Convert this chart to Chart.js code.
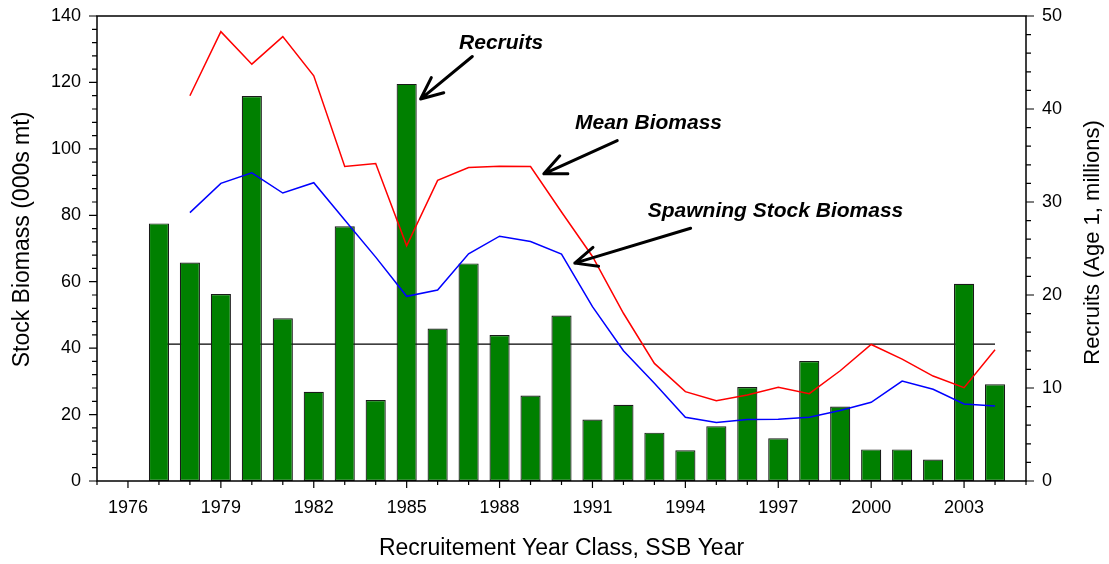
<!DOCTYPE html>
<html>
<head>
<meta charset="utf-8">
<script src="https://cdn.jsdelivr.net/npm/chart.js@4.4.1/dist/chart.umd.min.js"></script>
<style>
  html, body { margin: 0; padding: 0; background: #fff; }
</style>
</head>
<body>
<canvas id="chart" width="1109" height="564"></canvas>
<script>
// recruits by year class (millions, right axis)
const recruitYears = [1977, 1978, 1979, 1980, 1981, 1982, 1983, 1984, 1985, 1986, 1987, 1988, 1989, 1990,
  1991, 1992, 1993, 1994, 1995, 1996, 1997, 1998, 1999, 2000, 2001, 2002, 2003, 2004];
const recruits = [27.7, 23.5, 20.1, 41.4, 17.5, 9.6, 27.4, 8.7, 42.7, 16.4, 23.4, 15.7, 9.2, 17.8,
  6.6, 8.2, 5.2, 3.3, 5.9, 10.1, 4.6, 12.9, 8.0, 3.4, 3.4, 2.3, 21.2, 10.4];

// biomass by SSB year (000s mt, left axis)
const biomassYears = [1978, 1979, 1980, 1981, 1982, 1983, 1984, 1985, 1986, 1987, 1988, 1989, 1990,
  1991, 1992, 1993, 1994, 1995, 1996, 1997, 1998, 1999, 2000, 2001, 2002, 2003, 2004];
const meanBiomass = [116.0, 135.3, 125.5, 133.8, 122.0, 94.7, 95.6, 70.8, 90.5, 94.4, 94.8, 94.7, 81.0,
  67.6, 50.5, 35.4, 26.9, 24.2, 25.9, 28.2, 26.3, 33.2, 41.1, 36.7, 31.6, 28.1, 39.5];
const ssb = [80.8, 89.6, 92.8, 86.7, 89.8, 78.6, 67.4, 55.6, 57.5, 68.4, 73.7, 72.1, 68.3,
  52.5, 39.2, 29.4, 19.2, 17.6, 18.5, 18.6, 19.2, 21.2, 23.7, 30.1, 27.6, 23.2, 22.6];

// flat reference line
const refYears = [1977, 2004];
const refLevel = 41.2;

// which ticks get labels
const yearLabels = [1976, 1979, 1982, 1985, 1988, 1991, 1994, 1997, 2000, 2003];
const leftLabels = [0, 20, 40, 60, 80, 100, 120, 140];
const rightLabels = [0, 10, 20, 30, 40, 50];

// callouts: text spot and arrow (year, biomass)
const notes = [
  { text: "Recruits", at: [1988.05, 132.2], from: [1987.12, 127.8], to: [1985.45, 115.0] },
  { text: "Mean Biomass", at: [1992.81, 108.0], from: [1991.8, 102.5], to: [1989.43, 92.5] },
  { text: "Spawning Stock Biomass", at: [1996.91, 81.6], from: [1994.17, 76.1], to: [1990.43, 65.6] },
];

const FONT = 'Arial, "Liberation Sans", sans-serif';

function pts(xs, ys) {
  return xs.map((x, i) => ({ x: x, y: ys[i] }));
}

// fixed axis box sizes so the plot area sits where the original one does
function fixSize(w, h) {
  return (s) => {
    if (w) s.width = w;
    if (h) s.height = h;
    s.paddingTop = 0;
    s.paddingBottom = 0;
    s.paddingLeft = 0;
    s.paddingRight = 0;
  };
}

function vText(ctx, text, x, y) {
  ctx.save();
  ctx.translate(x, y);
  ctx.rotate(-Math.PI / 2);
  ctx.fillText(text, 0, 0);
  ctx.restore();
}

// frame + tick marks (long for labelled ticks, short otherwise) + side titles
const frameTicks = {
  id: "frameTicks",
  afterDraw(chart) {
    const { ctx, chartArea: a, scales } = chart;
    ctx.save();
    ctx.strokeStyle = "#000";
    ctx.lineWidth = 1.5;
    ctx.strokeRect(a.left, a.top, a.right - a.left, a.bottom - a.top);
    ctx.lineWidth = 1.2;
    ctx.beginPath();
    scales.x.ticks.forEach((t) => {
      const px = scales.x.getPixelForValue(t.value);
      const len = yearLabels.includes(t.value) ? 7 : 4;
      ctx.moveTo(px, a.bottom);
      ctx.lineTo(px, a.bottom + len);
    });
    scales.y.ticks.forEach((t) => {
      const py = scales.y.getPixelForValue(t.value);
      const len = leftLabels.includes(t.value) ? 8 : 5;
      ctx.moveTo(a.left, py);
      ctx.lineTo(a.left - len, py);
    });
    scales.y1.ticks.forEach((t) => {
      const py = scales.y1.getPixelForValue(t.value);
      const len = rightLabels.includes(t.value) ? 8 : 5;
      ctx.moveTo(a.right, py);
      ctx.lineTo(a.right + len, py);
    });
    ctx.stroke();

    ctx.fillStyle = "#000";
    ctx.textAlign = "center";
    ctx.textBaseline = "middle";
    const mid = (a.top + a.bottom) / 2;
    ctx.font = "23px " + FONT;
    vText(ctx, "Stock Biomass (000s mt)", a.left - 74, mid - 9);
    ctx.font = "22px " + FONT;
    vText(ctx, "Recruits (Age 1, millions)", a.right + 67, mid - 6);
    ctx.restore();
  },
};

const callouts = {
  id: "callouts",
  afterDatasetsDraw(chart) {
    const { ctx, scales } = chart;
    const X = (v) => scales.x.getPixelForValue(v);
    const Y = (v) => scales.y.getPixelForValue(v);
    ctx.save();
    ctx.fillStyle = "#000";
    ctx.strokeStyle = "#000";
    ctx.font = "italic bold 21px " + FONT;
    ctx.textAlign = "center";
    ctx.textBaseline = "middle";
    notes.forEach((n) => {
      ctx.fillText(n.text, X(n.at[0]), Y(n.at[1]) + 1);
      const x0 = X(n.from[0]), y0 = Y(n.from[1]);
      const x1 = X(n.to[0]), y1 = Y(n.to[1]);
      const ang = Math.atan2(y1 - y0, x1 - x0);
      ctx.lineWidth = 3;
      ctx.lineCap = "round";
      ctx.beginPath();
      ctx.moveTo(x0, y0);
      ctx.lineTo(x1, y1);
      [0.42, -0.42].forEach((d) => {
        ctx.moveTo(x1, y1);
        ctx.lineTo(x1 - 24 * Math.cos(ang + d), y1 - 24 * Math.sin(ang + d));
      });
      ctx.stroke();
    });
    ctx.restore();
  },
};

new Chart(document.getElementById("chart").getContext("2d"), {
  type: "bar",
  data: {
    datasets: [
      {
        type: "line",
        label: "Mean Biomass",
        data: pts(biomassYears, meanBiomass),
        borderColor: "#ff0000",
        borderWidth: 1.5,
        pointRadius: 0,
        tension: 0,
        yAxisID: "y",
        order: 0,
      },
      {
        type: "line",
        label: "Spawning Stock Biomass",
        data: pts(biomassYears, ssb),
        borderColor: "#0000ff",
        borderWidth: 1.5,
        pointRadius: 0,
        tension: 0,
        yAxisID: "y",
        order: 1,
      },
      {
        type: "bar",
        label: "Recruits",
        data: pts(recruitYears, recruits),
        backgroundColor: "#008000",
        borderColor: "#1a1a1a",
        borderWidth: 1.2,
        borderSkipped: false,
        barPercentage: 0.65,
        categoryPercentage: 1,
        yAxisID: "y1",
        order: 2,
      },
      {
        type: "line",
        label: "Reference",
        data: refYears.map((x) => ({ x: x, y: refLevel })),
        borderColor: "#000",
        borderWidth: 1.2,
        pointRadius: 0,
        yAxisID: "y",
        order: 3,
      },
    ],
  },
  options: {
    responsive: false,
    animation: false,
    layout: { padding: { top: 16, left: 0, right: 0, bottom: 0 } },
    plugins: { legend: { display: false }, tooltip: { enabled: false } },
    scales: {
      x: {
        type: "linear",
        min: 1975,
        max: 2005,
        offset: false,
        grid: { display: false, drawTicks: false },
        border: { display: false },
        ticks: {
          stepSize: 1,
          autoSkip: false,
          maxRotation: 0,
          padding: 16,
          color: "#000",
          font: { family: FONT, size: 18 },
          callback: (v) => (yearLabels.includes(v) ? String(v) : ""),
        },
        title: {
          display: true,
          text: "Recruitement Year Class, SSB Year",
          color: "#000",
          font: { family: FONT, size: 23 },
          padding: { top: 0, bottom: 2 },
        },
        afterFit: fixSize(0, 83),
      },
      y: {
        position: "left",
        min: 0,
        max: 140,
        grid: { display: false, drawTicks: false },
        border: { display: false },
        ticks: {
          stepSize: 4,
          autoSkip: false,
          padding: 16,
          color: "#000",
          font: { family: FONT, size: 18 },
          callback: (v) => (leftLabels.includes(v) ? String(v) : ""),
        },
        afterFit: fixSize(97, 0),
      },
      y1: {
        position: "right",
        min: 0,
        max: 50,
        grid: { display: false, drawTicks: false },
        border: { display: false },
        ticks: {
          stepSize: 2,
          autoSkip: false,
          padding: 16,
          color: "#000",
          font: { family: FONT, size: 18 },
          callback: (v) => (rightLabels.includes(v) ? String(v) : ""),
        },
        afterFit: fixSize(83, 0),
      },
    },
  },
  plugins: [frameTicks, callouts],
});
</script>
</body>
</html>
